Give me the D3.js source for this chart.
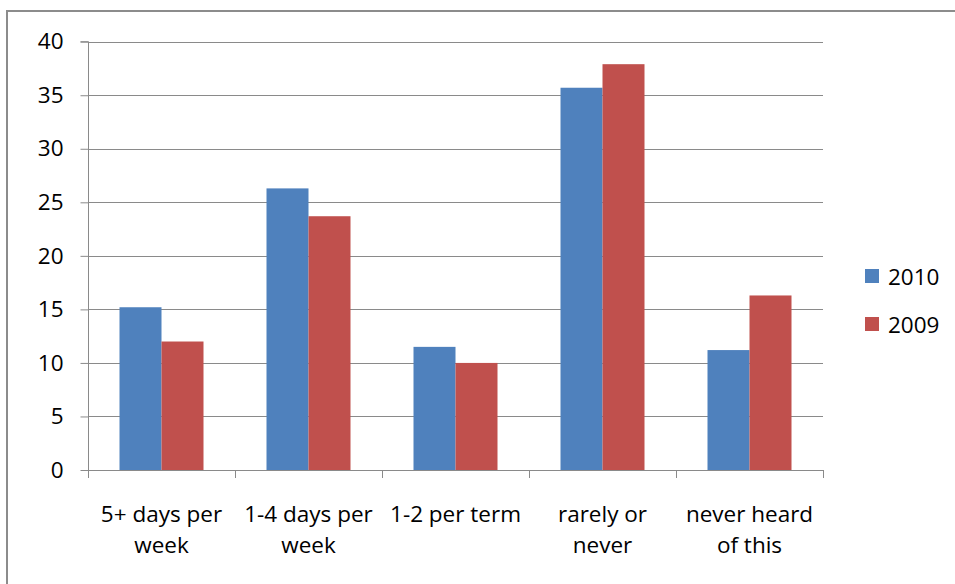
<!DOCTYPE html>
<html>
<head>
<meta charset="utf-8">
<script src="https://cdn.jsdelivr.net/npm/d3@7"></script>
<style>
  html, body { margin: 0; padding: 0; background: #fff; }
  svg { display: block; }
  text { font-family: "Open Sans", "Noto Sans", sans-serif; fill: #000; }
</style>
</head>
<body>
<svg id="chart" width="955" height="584"></svg>
<script>
// Survey responses by frequency, two years
const categories = [["5+ days per", "week"], ["1-4 days per", "week"], ["1-2 per term"], ["rarely or", "never"], ["never heard", "of this"]];
const seriesNames = ["2010", "2009"];
const values2010 = [15.2, 26.3, 11.5, 35.7, 11.2];
const values2009 = [12.0, 23.7, 10.0, 37.9, 16.3];
const yTicks = [0, 5, 10, 15, 20, 25, 30, 35, 40];
const colors = ["#4F81BD", "#C0504D"];

const svg = d3.select("#chart");
const plot = { left: 88, right: 823, top: 41.7, bottom: 470 };
const fontSize = 22.5;

// chart frame
svg.append("rect")
  .attr("x", 7).attr("y", 11)
  .attr("width", 960).attr("height", 600)
  .attr("fill", "#fff").attr("stroke", "#8c8c8c").attr("stroke-width", 2);

const y = d3.scaleLinear().domain([0, 40]).range([plot.bottom, plot.top]);
const x0 = d3.scaleBand().domain(d3.range(categories.length))
  .range([plot.left, plot.right]).paddingInner(0).paddingOuter(0);
const x1 = d3.scaleBand().domain(seriesNames)
  .range([0, x0.bandwidth()]).paddingInner(0).paddingOuter(0.75);

// horizontal gridlines
svg.append("g").selectAll("line").data(yTicks.filter(d => d > 0)).join("line")
  .attr("x1", plot.left).attr("x2", plot.right)
  .attr("y1", d => Math.round(y(d)) + 0.5).attr("y2", d => Math.round(y(d)) + 0.5)
  .attr("stroke", "#8a8a8a").attr("stroke-width", 1);

// bars
const data = categories.map((c, i) => [values2010[i], values2009[i]]);
svg.append("g").selectAll("g").data(data).join("g")
  .attr("transform", (d, i) => `translate(${x0(i)},0)`)
  .selectAll("rect").data(d => d.map((v, j) => ({ v, s: seriesNames[j], j }))).join("rect")
  .attr("x", d => x1(d.s)).attr("width", x1.bandwidth())
  .attr("y", d => y(d.v)).attr("height", d => y(0) - y(d.v))
  .attr("fill", d => colors[d.j]);

// y axis
const yAxis = d3.axisLeft(y).tickValues(yTicks).tickSize(8).tickPadding(17);
const gy = svg.append("g").attr("transform", `translate(${plot.left + 0.5},0)`).call(yAxis);
gy.select(".domain").attr("stroke", "#8a8a8a").attr("d", `M-8,${y(40)}H0V${plot.bottom + 8}`);
gy.selectAll(".tick line").attr("stroke", "#8a8a8a");
gy.selectAll(".tick text").attr("font-size", fontSize).attr("font-family", "Open Sans").attr("fill", "#000");

// x axis baseline and category ticks
svg.append("line")
  .attr("x1", plot.left).attr("x2", plot.right)
  .attr("y1", plot.bottom + 0.5).attr("y2", plot.bottom + 0.5)
  .attr("stroke", "#8a8a8a");
const bounds = d3.range(categories.length + 1).map(i => i < categories.length ? x0(i) : plot.right);
svg.append("g").selectAll("line").data(bounds).join("line")
  .attr("x1", d => Math.round(d) + 0.5).attr("x2", d => Math.round(d) + 0.5)
  .attr("y1", plot.bottom).attr("y2", plot.bottom + 8)
  .attr("stroke", "#8a8a8a");

// category labels
const labels = svg.append("g").selectAll("text").data(categories).join("text")
  .attr("text-anchor", "middle").attr("font-size", fontSize)
  .attr("x", (d, i) => x0(i) + x0.bandwidth() / 2)
  .attr("y", 522);
labels.selectAll("tspan").data(d => d).join("tspan")
  .attr("x", function () { return d3.select(this.parentNode).attr("x"); })
  .attr("dy", (d, k) => k === 0 ? 0 : 31)
  .text(d => d);

// legend
const legend = svg.append("g").selectAll("g").data(seriesNames).join("g")
  .attr("transform", (d, i) => `translate(865,${269 + i * 48})`);
legend.append("rect").attr("width", 14).attr("height", 14).attr("fill", (d, i) => colors[i]);
legend.append("text").attr("x", 23).attr("y", 16).attr("font-size", fontSize).text(d => d);
</script>
</body>
</html>
